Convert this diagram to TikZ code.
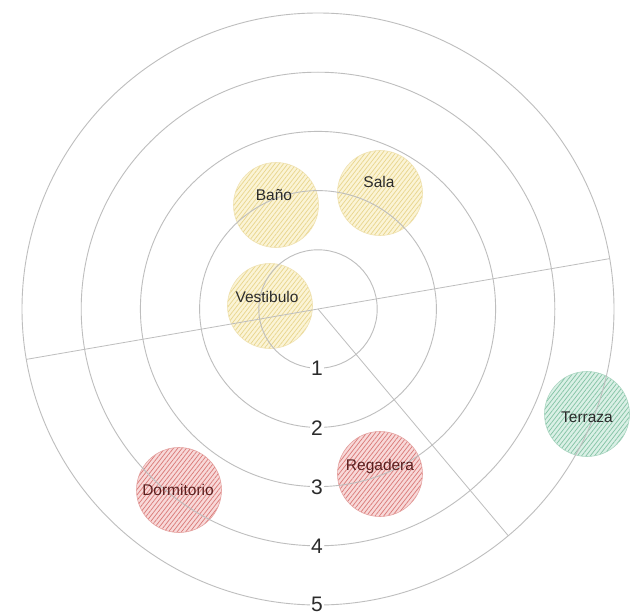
\documentclass[tikz,border=0pt]{standalone}
\usepackage{fontspec}
\setmainfont{Liberation Sans}
\usetikzlibrary{patterns.meta,calc}

\definecolor{ringgray}{HTML}{BEBEBE}
\definecolor{yfill}{HTML}{FBF4D6}
\definecolor{yhatch}{HTML}{E9D68F}
\definecolor{rfill}{HTML}{F8D9D9}
\definecolor{rhatch}{HTML}{DA7C79}
\definecolor{gfill}{HTML}{DAF0E6}
\definecolor{ghatch}{HTML}{86C4A6}
\definecolor{darktext}{HTML}{2B2B2B}
\definecolor{redtext}{HTML}{5A1E1E}

\tikzset{
  ring/.style={draw=ringgray, line width=0.9pt},
  room/.style={circle, minimum size=85pt, inner sep=0pt, draw=#1hatch!70, line width=0.6pt,
    preaction={fill=#1fill},
    pattern={Lines[angle=52,distance=3.4pt,line width=0.75pt]}, pattern color=#1hatch},
  roomtext/.style={font=\fontsize{15.5}{18}\selectfont, text=#1, inner sep=1pt},
  ringlabel/.style={font=\fontsize{21}{24}\selectfont, text=darktext, fill=white, inner sep=1.2pt}
}

\begin{document}
\begin{tikzpicture}[x=1pt,y=-1pt]
\useasboundingbox (0,0) rectangle (632,615);
\fill[white] (0,0) rectangle (632,615);

\coordinate (c) at (318,309);

% room bubbles
\node[room=y] (bano) at (276,205) {};
\node[room=y] (sala) at (380,193) {};
\node[room=y] (vest) at (270,306) {};
\node[room=r] (dorm) at (179,490) {};
\node[room=r] (rega) at (380,474) {};
\node[room=g] (terr) at (587,414) {};

% concentric zones
\foreach \r in {59.2,118.4,177.6,236.8,296}
  \draw[ring] (c) circle (\r);

% dividing lines (polar angles measured on the page)
\coordinate (west) at ($(c)+(170.2:296)$);
\coordinate (east) at ($(c)+(-9.8:296)$);
\coordinate (south) at ($(c)+(50:296)$);
\draw[ring, line width=0.8pt] (west) -- (east);
\draw[ring, line width=0.8pt] (c) -- (south);

% zone numbers
\node[ringlabel] (z1) at (317,368) {1};
\node[ringlabel] (z2) at (317,428) {2};
\node[ringlabel] (z3) at (317,487) {3};
\node[ringlabel] (z4) at (317,546) {4};
\node[ringlabel] (z5) at (317,604) {5};

% room names
\node[roomtext=darktext] (bano-t) at (274,195) {Baño};
\node[roomtext=darktext] (sala-t) at (379,182) {Sala};
\node[roomtext=darktext] (vest-t) at (267,297) {Vestibulo};
\node[roomtext=redtext] (dorm-t) at (178,490) {Dormitorio};
\node[roomtext=redtext] (rega-t) at (380,466) {Regadera};
\node[roomtext=darktext] (terr-t) at (587,417) {Terraza};
\end{tikzpicture}
\end{document}
